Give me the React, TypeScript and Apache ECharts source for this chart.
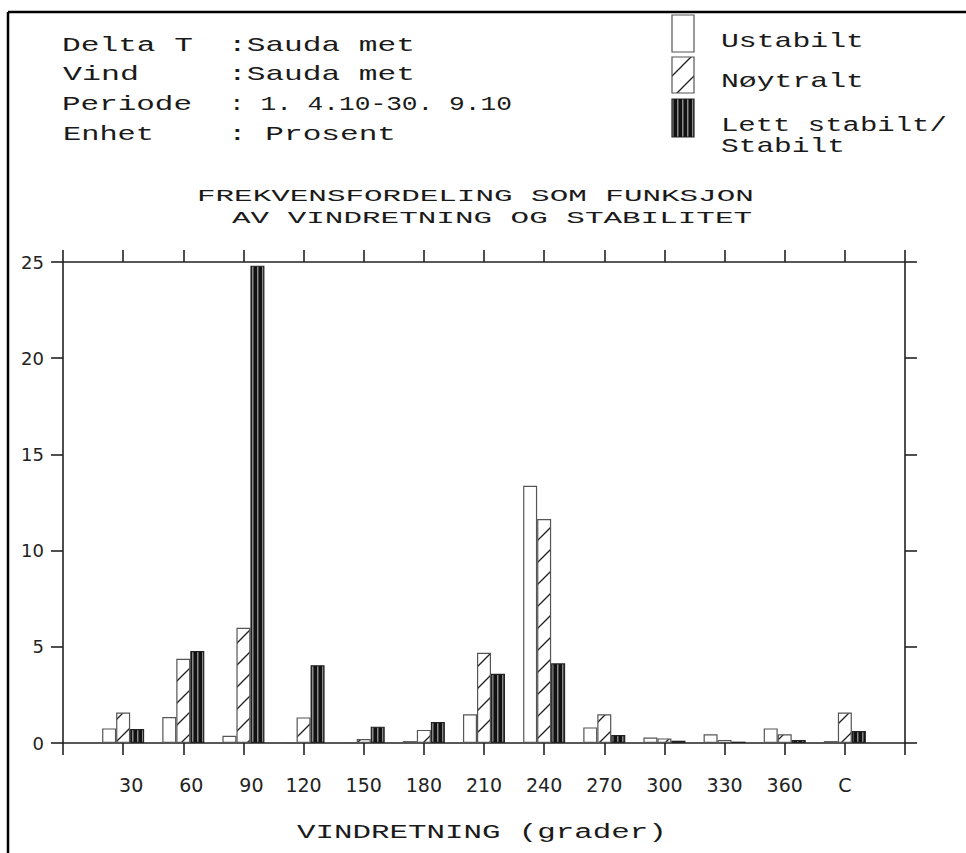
import React, { useEffect, useRef } from "react";
import * as echarts from "echarts";

// ---------- data ----------
const directions = ["30", "60", "90", "120", "150", "180", "210", "240", "270", "300", "330", "360", "C"];
const ustabilt = [0.76, 1.35, 0.38, 0.03, 0.05, 0.1, 1.49, 13.37, 0.81, 0.28, 0.45, 0.76, 0.1];
const noytralt = [1.58, 4.38, 5.99, 1.33, 0.21, 0.68, 4.69, 11.64, 1.49, 0.24, 0.16, 0.45, 1.58];
const stabilt = [0.73, 4.78, 24.81, 4.04, 0.85, 1.09, 3.6, 4.14, 0.41, 0.12, 0.07, 0.16, 0.62];
const yMin = 0;
const yMax = 25;
const yStep = 5;
const seriesNames = ["Ustabilt", "Nøytralt", "Lett stabilt/Stabilt"];
const legendLines = [["Ustabilt"], ["Nøytralt"], ["Lett stabilt/", "Stabilt"]];
const headerLabels = ["Delta T", "Vind", "Periode", "Enhet"];
const headerValues = [":Sauda met", ":Sauda met", ": 1. 4.10-30. 9.10", ": Prosent"];
const titleLines = ["FREKVENSFORDELING SOM FUNKSJON", "AV VINDRETNING OG STABILITET"];
const xAxisTitle = "VINDRETNING (grader)";

// ---------- layout ----------
const W = 966;
const H = 853;
const MONO = "'Liberation Mono', 'DejaVu Sans Mono', monospace";
const SANS = "'DejaVu Sans', sans-serif";
const INK = "#1a1a1a";
const AX = "#222";

function txt(str: string, left: number, cy: number, width: number, size: number) {
  const natural = str.length * 0.6 * size;
  return {
    type: "text",
    x: left,
    y: cy,
    scaleX: width / natural,
    silent: true,
    style: {
      text: str,
      x: 0,
      y: 0,
      font: `${size}px ${MONO}`,
      fill: INK,
      textAlign: "left",
      textVerticalAlign: "middle",
      verticalAlign: "middle",
    },
  };
}

function hatchPattern() {
  const c = document.createElement("canvas");
  c.width = 22;
  c.height = 22;
  const g = c.getContext("2d")!;
  g.fillStyle = "#ffffff";
  g.fillRect(0, 0, 22, 22);
  g.strokeStyle = "#222";
  g.lineWidth = 1.3;
  for (const off of [-22, 0, 22]) {
    g.beginPath();
    g.moveTo(-4, 26 + off);
    g.lineTo(26, -4 + off);
    g.stroke();
  }
  return { image: c, repeat: "repeat" };
}

function stripePattern() {
  const c = document.createElement("canvas");
  c.width = 5;
  c.height = 4;
  const g = c.getContext("2d")!;
  g.fillStyle = "#111";
  g.fillRect(0, 0, 5, 4);
  g.fillStyle = "#8a8a8a";
  g.fillRect(2, 0, 1.5, 4);
  return { image: c, repeat: "repeat" };
}

export default function App() {
  const ref = useRef<HTMLDivElement>(null);

  useEffect(() => {
    if (!ref.current) return;
    const chart = echarts.init(ref.current, null, { renderer: "svg" });
    const hatch = hatchPattern();
    const stripe = stripePattern();

    const axisCats = ["_l", ...directions, "_r"];
    const pad = (a: number[]) => ["-", ...a, "-"];
    const lineStyle = { color: AX, width: 1.6 };

    const headerLeft = [
      { l: 62, w: 131 },
      { l: 63, w: 76 },
      { l: 62, w: 130 },
      { l: 63, w: 91 },
    ];
    const headerRight = [
      { l: 228, w: 187 },
      { l: 228, w: 187 },
      { l: 229, w: 283 },
      { l: 228, w: 168 },
    ];
    const rowsY = [46, 75, 105, 135];

    const graphics: any[] = [
      { type: "line", silent: true, shape: { x1: 8, y1: 12, x2: W, y2: 12 }, style: { stroke: "#000", lineWidth: 2.5 } },
      { type: "line", silent: true, shape: { x1: 8, y1: 12, x2: 8, y2: H }, style: { stroke: "#000", lineWidth: 2.5 } },
    ];
    headerLabels.forEach((s, i) => graphics.push(txt(s, headerLeft[i].l, rowsY[i], headerLeft[i].w, 20)));
    headerValues.forEach((s, i) => graphics.push(txt(s, headerRight[i].l, rowsY[i], headerRight[i].w, 20)));

    // legend
    const boxes = [
      { y: 15, h: 37, fill: "#fff", stroke: "#555" },
      { y: 57, h: 36, fill: hatch, stroke: "#555" },
      { y: 99, h: 38, fill: stripe, stroke: "#222" },
    ];
    boxes.forEach((b) =>
      graphics.push({
        type: "rect",
        silent: true,
        shape: { x: 672, y: b.y, width: 22, height: b.h },
        style: { fill: b.fill, stroke: b.stroke, lineWidth: 1.2 },
      })
    );
    const legendPos = [
      [{ y: 42, w: 143 }],
      [{ y: 82, w: 143 }],
      [{ y: 125, w: 226 }, { y: 147, w: 124 }],
    ];
    legendLines.forEach((lines, i) =>
      lines.forEach((s, j) => graphics.push(txt(s, 721, legendPos[i][j].y, legendPos[i][j].w, 20)))
    );

    // title
    graphics.push(txt(titleLines[0], 197, 196.5, 557, 17));
    graphics.push(txt(titleLines[1], 232, 218.5, 520, 17));
    // x axis title
    graphics.push(txt(xAxisTitle, 297, 832, 370, 21));

    const labelFont = { fontFamily: SANS, fontSize: 19, color: AX };

    const option: any = {
      animation: false,
      backgroundColor: "#ffffff",
      grid: {
        left: 63,
        right: W - 905,
        top: 262,
        bottom: H - 743,
        containLabel: false,
        outerBoundsMode: "none",
      },
      xAxis: [
        {
          type: "category",
          data: axisCats,
          boundaryGap: false,
          position: "bottom",
          axisLine: { show: true, onZero: false, lineStyle },
          axisTick: { show: true, inside: false, length: 12, interval: 0, lineStyle },
          axisLabel: {
            show: true,
            interval: 0,
            margin: 32,
            ...labelFont,
            formatter: (v: string) =>
              v.startsWith("_") ? "" : v.length === 2 ? `{p|${v}}` : `{n|${v}}`,
            rich: {
              p: { ...labelFont, padding: [0, 0, 0, 16] },
              n: { ...labelFont },
            },
          },
          splitLine: { show: false },
        },
        {
          type: "category",
          data: axisCats,
          boundaryGap: false,
          position: "top",
          axisLine: { show: true, onZero: false, lineStyle },
          axisTick: { show: true, inside: false, length: 12, interval: 0, lineStyle },
          axisLabel: { show: false },
          splitLine: { show: false },
        },
      ],
      yAxis: [
        {
          type: "value",
          min: yMin,
          max: yMax,
          interval: yStep,
          position: "left",
          axisLine: { show: true, lineStyle },
          axisTick: { show: true, inside: false, length: 12, lineStyle },
          axisLabel: { show: true, margin: 19, fontFamily: SANS, fontSize: 18, color: AX },
          splitLine: { show: false },
        },
        {
          type: "value",
          min: yMin,
          max: yMax,
          interval: yStep,
          position: "right",
          axisLine: { show: true, lineStyle },
          axisTick: { show: true, inside: false, length: 12, lineStyle },
          axisLabel: { show: false },
          splitLine: { show: false },
        },
      ],
      series: [
        {
          type: "bar",
          name: seriesNames[0],
          data: pad(ustabilt),
          barWidth: 14,
          barGap: "0%",
          itemStyle: { color: "#ffffff", borderColor: "#555", borderWidth: 1.2 },
        },
        {
          type: "bar",
          name: seriesNames[1],
          data: pad(noytralt),
          barWidth: 14,
          barGap: "0%",
          itemStyle: { color: hatch, borderColor: "#555", borderWidth: 1.2 },
        },
        {
          type: "bar",
          name: seriesNames[2],
          data: pad(stabilt),
          barWidth: 14,
          barGap: "0%",
          itemStyle: { color: stripe, borderColor: "#222", borderWidth: 1.2 },
        },
      ],
      graphic: graphics,
    };

    chart.setOption(option);
    return () => chart.dispose();
  }, []);

  return (
    <div
      ref={ref}
      style={{ position: "absolute", left: 0, top: 0, width: W, height: H, background: "#fff" }}
    />
  );
}
